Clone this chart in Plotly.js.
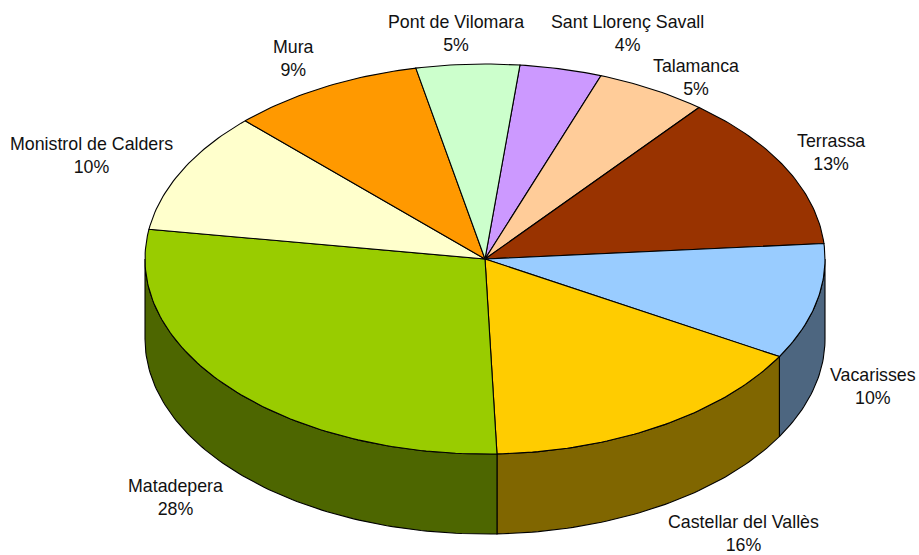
<!DOCTYPE html>
<html>
<head>
<meta charset="utf-8">
<script src="https://cdn.plot.ly/plotly-3.0.1.min.js"></script>
<style>html,body{margin:0;padding:0;background:#fff}#chart{width:919px;height:555px}</style>
</head>
<body>
<div id="chart"></div>
<script>
// Data, clockwise from the Sant Llorenç / Pont de Vilomara boundary
const categories = ["Sant Llorenç Savall","Talamanca","Terrassa","Vacarisses","Castellar del Vallès","Matadepera","Monistrol de Calders","Mura","Pont de Vilomara"];
const shares = [3.9,5.3,12.9,9.6,16.1,28.0,10.1,9.2,4.9];
const percentLabels = ["4%","5%","13%","10%","16%","28%","10%","9%","5%"];

// Styles and geometry
const topColors = ["#CC99FF","#FFCC99","#993300","#99CCFF","#FFCC00","#99CC00","#FFFFCC","#FF9900","#CCFFCC"];
const wallColors = ["#664C80","#806650","#4D1900","#4D6680","#806600","#4D6600","#808066","#804C00","#668066"];
const geom = {cx:485, cy:259, rx:340, ry:195, depth:80, start:5.9};
const labelCentres = [[627,33],[696,77],[831,152],[873,386],[743,533],[175,497],[91,155],[293,58],[456,33]];
const labelFont = {family:"Liberation Sans, Arial, sans-serif", size:17.8, color:"#111"};

const rad = d => d*Math.PI/180;
const px = t => geom.cx + geom.rx*Math.sin(rad(t));
const py = (t,dz) => geom.cy - geom.ry*Math.cos(rad(t)) + (dz||0);
function arc(a,b,dz){
  const n = Math.max(2, Math.ceil(Math.abs(b-a)));
  const xs=[], ys=[];
  for(let i=0;i<=n;i++){const t=a+(b-a)*i/n; xs.push(px(t)); ys.push(py(t,dz));}
  return [xs,ys];
}

const total = shares.reduce((s,v)=>s+v,0);
let cursor = geom.start;
const spans = shares.map(v=>{const a=cursor; cursor+=v/total*360; return [a,cursor];});

const traces = [];
spans.forEach((s,i)=>{
  // side wall: only the part facing the viewer (90 to 270 degrees)
  const a=Math.max(s[0],90), b=Math.min(s[1],270);
  if(b>a){
    const up=arc(a,b,0), down=arc(b,a,geom.depth);
    traces.push({type:"scatter",mode:"lines",x:up[0].concat(down[0],[up[0][0]]),y:up[1].concat(down[1],[up[1][0]]),
      fill:"toself",fillcolor:wallColors[i],line:{color:"#000",width:1.1},hoverinfo:"skip",showlegend:false});
  }
});
spans.forEach((s,i)=>{
  const e=arc(s[0],s[1],0);
  traces.push({type:"scatter",mode:"lines",x:[geom.cx].concat(e[0],[geom.cx]),y:[geom.cy].concat(e[1],[geom.cy]),
    fill:"toself",fillcolor:topColors[i],line:{color:"#000",width:1.1},
    name:categories[i],text:categories[i]+": "+percentLabels[i],hoverinfo:"text",showlegend:false});
});

const annotations = categories.map((c,i)=>({
  x:labelCentres[i][0],y:labelCentres[i][1],xref:"x",yref:"y",xanchor:"center",yanchor:"middle",
  text:c+"<br>"+percentLabels[i],showarrow:false,font:labelFont,align:"center"}));

const layout = {
  width:919,height:555,margin:{l:0,r:0,t:0,b:0},paper_bgcolor:"#fff",plot_bgcolor:"#fff",
  xaxis:{range:[0,919],visible:false,fixedrange:true},
  yaxis:{range:[555,0],visible:false,fixedrange:true},
  annotations:annotations,showlegend:false
};
Plotly.newPlot("chart",traces,layout,{displayModeBar:false,staticPlot:false});
</script>
</body>
</html>
